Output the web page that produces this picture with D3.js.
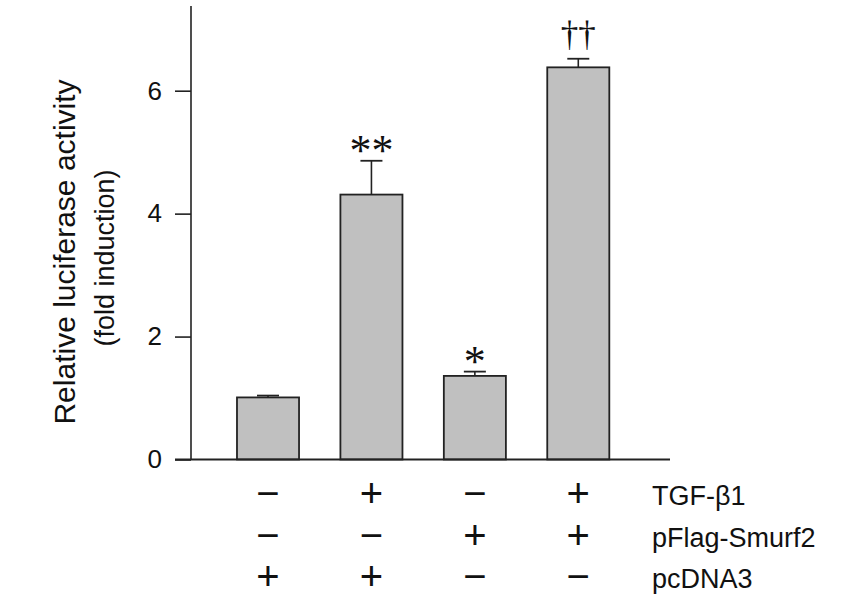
<!DOCTYPE html>
<html>
<head>
<meta charset="utf-8">
<script src="https://cdn.jsdelivr.net/npm/d3@7"></script>
<style>
  body { margin: 0; background: #fff; }
  svg text { font-family: "Liberation Sans", Arial, sans-serif; fill: #111; }
</style>
</head>
<body>
<svg id="chart" width="852" height="600"></svg>
<script>
// values
var groups = ["g1", "g2", "g3", "g4"];
var means = [1.01, 4.31, 1.36, 6.38];
var errs = [0.03, 0.55, 0.07, 0.14];
var marks = ["", "**", "*", "\u2020\u2020"];
var y_ticks = [0, 2, 4, 6];

var row_names = ["TGF-\u03b21", "pFlag-Smurf2", "pcDNA3"];
var tgf = ["\u2212", "+", "\u2212", "+"];
var smurf = ["\u2212", "\u2212", "+", "+"];
var pcdna = ["+", "+", "\u2212", "\u2212"];
var rows = [tgf, smurf, pcdna];

var svg = d3.select("#chart");
var ink = "#222";

var y = d3.scaleLinear()
    .domain([0, 6])
    .range([459.5, 90.7]);

var x = d3.scaleBand()
    .domain(groups)
    .range([216.3, 630])
    .paddingInner(0.4)
    .paddingOuter(0.2);

var axis_x = 191;

// y axis
var yaxis = svg.append("g")
    .attr("transform", "translate(" + axis_x + ",0)")
    .call(d3.axisLeft(y).tickValues(y_ticks).tickSize(16).tickPadding(13).tickFormat(d3.format("d")));
yaxis.select(".domain").remove();
yaxis.selectAll(".tick line").attr("stroke", ink).attr("stroke-width", 1.6);
yaxis.selectAll(".tick text")
    .style("font-size", "26px")
    .style("font-family", "'Liberation Sans', Arial, sans-serif")
    .attr("fill", "#111");

svg.append("line")
    .attr("x1", axis_x).attr("x2", axis_x)
    .attr("y1", y(7.38)).attr("y2", y(0))
    .attr("stroke", ink).attr("stroke-width", 1.6);

// bars
var bar = svg.selectAll("g.bar")
    .data(groups)
    .enter()
    .append("g")
    .attr("class", "bar");

bar.append("rect")
    .attr("x", function(d){ return x(d); })
    .attr("width", x.bandwidth())
    .attr("y", function(d, i){ return y(means[i]); })
    .attr("height", function(d, i){ return y(0) - y(means[i]); })
    .attr("fill", "#c0c0c0")
    .attr("stroke", ink)
    .attr("stroke-width", 1.8);

// error bars, upper only
bar.append("line")
    .attr("x1", function(d){ return x(d) + x.bandwidth() / 2; })
    .attr("x2", function(d){ return x(d) + x.bandwidth() / 2; })
    .attr("y1", function(d, i){ return y(means[i]); })
    .attr("y2", function(d, i){ return y(means[i] + errs[i]); })
    .attr("stroke", ink).attr("stroke-width", 1.6);

bar.append("line")
    .attr("x1", function(d){ return x(d) + x.bandwidth() / 2 - 11; })
    .attr("x2", function(d){ return x(d) + x.bandwidth() / 2 + 11; })
    .attr("y1", function(d, i){ return y(means[i] + errs[i]); })
    .attr("y2", function(d, i){ return y(means[i] + errs[i]); })
    .attr("stroke", ink).attr("stroke-width", 1.8);

// significance marks
function is_star(i){ return marks[i].indexOf("*") >= 0; }

bar.append("text")
    .attr("x", function(d){ return x(d) + x.bandwidth() / 2; })
    .attr("y", function(d, i){
        return y(means[i] + errs[i]) + (is_star(i) ? 4 : -13);
    })
    .attr("text-anchor", "middle")
    .style("font-family", "'Liberation Serif', 'Times New Roman', serif")
    .style("font-size", function(d, i){ return is_star(i) ? "44px" : "35px"; })
    .text(function(d, i){ return marks[i]; });

// x baseline
svg.append("line")
    .attr("x1", 175).attr("x2", 670)
    .attr("y1", y(0)).attr("y2", y(0))
    .attr("stroke", ink).attr("stroke-width", 1.8);

// treatment table
var row_y = d3.scalePoint()
    .domain(row_names)
    .range([507, 590]);

rows.forEach(function(signs, r){
    svg.selectAll(null)
        .data(groups)
        .enter()
        .append("text")
        .attr("x", function(d){ return x(d) + x.bandwidth() / 2; })
        .attr("y", row_y(row_names[r]))
        .attr("text-anchor", "middle")
        .style("font-size", "40px")
        .text(function(d, i){ return signs[i]; });
});

svg.selectAll("text.rowlabel")
    .data(row_names)
    .enter()
    .append("text")
    .attr("class", "rowlabel")
    .attr("x", 652)
    .attr("y", function(d){ return row_y(d) - 2; })
    .style("font-size", "27px")
    .text(function(d){ return d; });

// y title
svg.append("text")
    .attr("transform", "translate(75,252) rotate(-90)")
    .attr("text-anchor", "middle")
    .style("font-size", "30px")
    .text("Relative luciferase activity");

svg.append("text")
    .attr("transform", "translate(114,258) rotate(-90)")
    .attr("text-anchor", "middle")
    .style("font-size", "27px")
    .text("(fold induction)");
</script>
</body>
</html>
